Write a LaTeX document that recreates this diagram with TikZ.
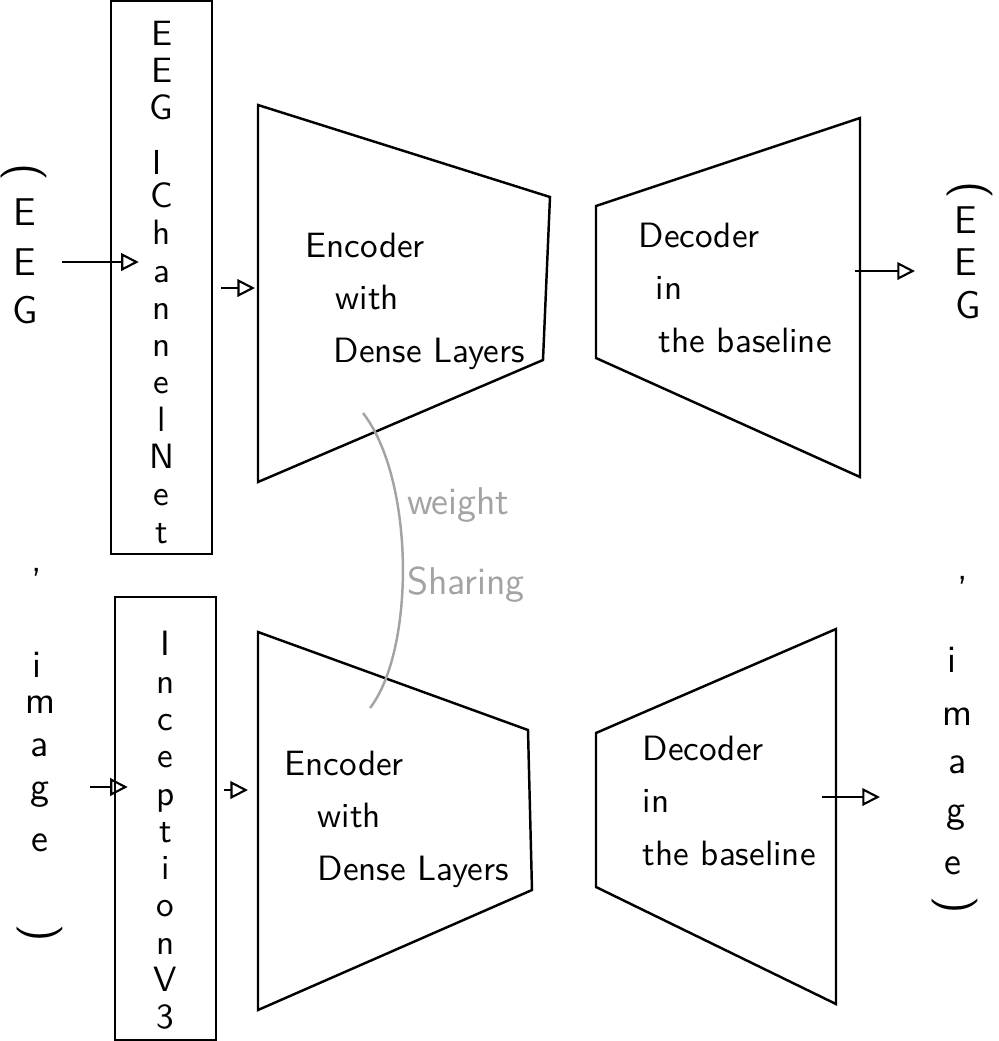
\documentclass[tikz,border=0pt]{standalone}
\usepackage{tikz}
\usetikzlibrary{arrows.meta}
\definecolor{shared}{HTML}{A3A3A3}

\begin{document}
\begin{tikzpicture}[x=0.01cm,y=-0.01cm,
  flow/.style={line width=0.6pt,-{Triangle[open,length=5pt,width=5pt]}},
  netbox/.style={draw,line width=0.7pt,minimum width=1.01cm,inner sep=0pt},
  boxtext/.style={align=center,inner sep=0pt,font=\sffamily\fontsize{10}{10.6}\selectfont},
  letter/.style={inner sep=0pt,font=\sffamily\fontsize{11}{11}\selectfont},
  turned/.style={inner sep=0pt,font=\sffamily\fontsize{13}{13}\selectfont,rotate=-90},
  blocktext/.style={anchor=north west,align=left,inner sep=0pt,font=\sffamily\fontsize{10}{15}\selectfont},
  trap/.style={line width=0.7pt}]
  \useasboundingbox (0,0) rectangle (999,1041);

  % Left column: (EEG, image)
  \node[turned] (parL) at (24,172) {(};
  \foreach \ch/\yy [count=\k] in {E/212,E/262,G/310}
    \node[letter] (eegL\k) at (25,\yy) {\ch};
  \node[letter] (commaL) at (37,572) {,};
  \foreach \ch/\xx/\yy [count=\k] in {i/37/665,m/40/705,a/40/748,g/40/795,e/40/843}
    \node[letter] (imgL\k) at (\xx,\yy) {\ch};
  \node[turned] (cparL) at (40,933) {)};

  % Feature extractors
  \node[netbox,minimum height=5.53cm] (chnet) at (161.5,277.5) {};
  \node[boxtext,anchor=north] (chtextA) at (161.5,20) {E\\E\\G};
  \node[boxtext,rotate=90,font=\sffamily\fontsize{14}{14}\selectfont] (chhyph) at (163,162) {\textendash};
  \node[boxtext,anchor=north] (chtextB) at (161.5,182) {C\\h\\a\\n\\n\\e\\l\\N\\e\\t};
  \node[netbox,minimum height=4.43cm] (incbox) at (165.5,818.5) {};
  \node[boxtext] (inctext) at ([yshift=-0.12cm]incbox.center) {I\\n\\c\\e\\p\\t\\i\\o\\n\\V\\3};

  % Top: EEG autoencoder
  \draw[trap] (258,105) -- (550,197) -- (543,360) -- (258,482) -- cycle;
  \node[blocktext] (enc1text) at (305,232) {Encoder\\\hspace*{0.3cm}with\\\hspace*{0.28cm}Dense Layers};
  \draw[trap] (596,206) -- (860,118) -- (860,477) -- (596,358) -- cycle;
  \node[blocktext] (dec1text) at (638,222) {Decoder\\\hspace*{0.17cm}in\\\hspace*{0.2cm}the baseline};

  % Bottom: image autoencoder
  \draw[trap] (258,632) -- (528,730) -- (532,890) -- (258,1010) -- cycle;
  \node[blocktext] (enc2text) at (284,750) {Encoder\\\hspace*{0.33cm}with\\\hspace*{0.33cm}Dense Layers};
  \draw[trap] (596,733) -- (836,629) -- (836,1004) -- (596,887) -- cycle;
  \node[blocktext] (dec2text) at (642,735) {Decoder\\in\\the baseline};

  % Right column: (EEG, image)
  \node[turned] (parR) at (970,190) {(};
  \foreach \ch/\xx/\yy [count=\k] in {E/966/220,E/966/262,G/968/305}
    \node[letter] (eegR\k) at (\xx,\yy) {\ch};
  \node[letter] (commaR) at (963,580) {,};
  \foreach \ch/\xx/\yy [count=\k] in {i/952/660,m/957/717,a/958/765,g/956/818,e/953/866}
    \node[letter] (imgR\k) at (\xx,\yy) {\ch};
  \node[turned] (cparR) at (955,905) {)};

  % Arrows
  \coordinate (enc1in) at (255,288);
  \coordinate (dec1out) at (855,271);
  \coordinate (enc2in) at (248,790);
  \coordinate (dec2out) at (822,797);
  \draw[flow] ([xshift=0.37cm]eegL2.center) -- ([xshift=0.29cm]chnet.west |- eegL2.center);
  \draw[flow] ([xshift=0.08cm]chnet.east |- enc1in) -- (enc1in);
  \draw[flow] (dec1out) -- ([xshift=-0.51cm]eegR2.center |- dec1out);
  \draw[flow] ([xshift=0.5cm,yshift=0.08cm]imgL4.center) -- ([xshift=0.14cm,yshift=0.08cm]incbox.west |- imgL4.center);
  \draw[flow] ([xshift=0.07cm]incbox.east |- enc2in) -- (enc2in);
  \draw[flow] (dec2out) -- ([xshift=-0.76cm]imgR4.center |- dec2out);

  % Weight sharing between the encoders
  \coordinate (wsTop) at (363,413);
  \coordinate (wsBot) at (370,708);
  \draw[shared,line width=0.7pt] (wsTop) .. controls (415,480) and (415,650) .. (wsBot);
  \node[shared,align=left,inner sep=0pt,font=\sffamily\fontsize{11}{23}\selectfont] (wstext) at (466,545) {weight\\Sharing};
\end{tikzpicture}
\end{document}
